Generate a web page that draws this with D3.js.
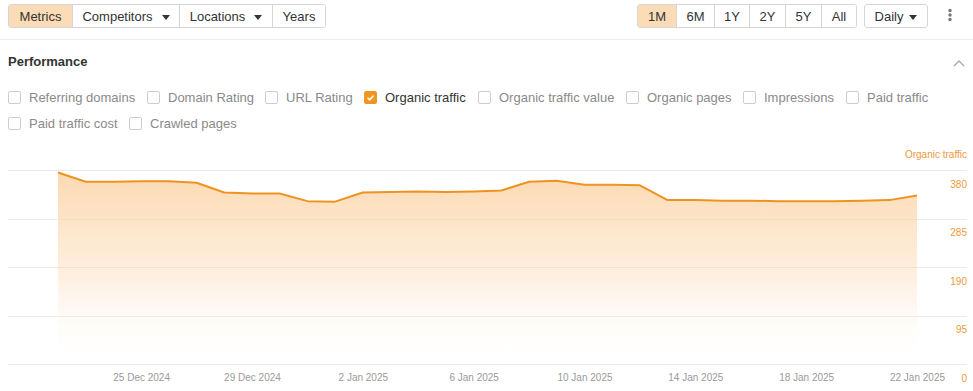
<!DOCTYPE html>
<html>
<head>
<meta charset="utf-8">
<script src="https://cdn.jsdelivr.net/npm/d3@7"></script>
<style>
body { margin:0; width:973px; height:391px; overflow:hidden; background:#fff; position:relative;
       font-family: Arial, "Liberation Sans", sans-serif; font-size:13px; color:#333; }
.grp { position:absolute; top:4px; height:24px; display:flex; border:1px solid #d6d6d6; border-radius:3px;
       box-sizing:border-box; overflow:hidden; }
.grp div { display:flex; align-items:center; justify-content:center; box-sizing:border-box; height:100%;
       border-left:1px solid #d6d6d6; background:#fff; }
.grp div:first-child { border-left:none; }
.grp div.on { background:#fcdcb6; }
.caret { display:inline-block; margin-left:9px; margin-top:2px; border-left:4px solid transparent;
       border-right:4px solid transparent; border-top:5px solid #333; }
.cb { position:absolute; display:flex; align-items:center; height:16px; color:#8a8a8a; white-space:nowrap; }
.cb .box { width:13px; height:13px; border:1px solid #cdcdcd; border-radius:2px; box-sizing:border-box;
       margin-right:8px; position:relative; }
.cb.on { color:#333; }
.cb.on .box { background:#f0961e; border-color:#f0961e; }
#divider { position:absolute; left:0; top:39px; width:973px; height:1px; background:#ececec; }
#perf { position:absolute; left:8px; top:54px; font-weight:bold; color:#333; }
svg { position:absolute; left:0; top:0; }
</style>
</head>
<body>
<div id="divider"></div>
<div id="perf">Performance</div>
<script>
// toolbar + metric pickers
var leftButtons = ["Metrics", "Competitors", "Locations", "Years"];
var leftWidths = [63, 107, 93, 53];
var leftDrop = [false, true, true, false];
var rangeButtons = ["1M", "6M", "1Y", "2Y", "5Y", "All"];
var rangeWidths = [38, 38, 35, 36, 36, 35];

var metricsRow1 = ["Referring domains", "Domain Rating", "URL Rating", "Organic traffic",
                   "Organic traffic value", "Organic pages", "Impressions", "Paid traffic"];
var metricsRow2 = ["Paid traffic cost", "Crawled pages"];
var metricsX1 = [8, 147, 265, 364, 478, 626, 743, 846];
var metricsX2 = [8, 129];
var checked = "Organic traffic";

// chart data: daily organic traffic, 22 Dec 2024 - 22 Jan 2025
var startDay = "2024-12-22";
var traffic = [375, 357, 357, 358, 358, 355, 336, 334, 334, 319, 318, 336, 337, 338, 337, 338,
               340, 357, 359, 351, 351, 350, 321, 321, 320, 320, 319, 319, 319, 320, 321, 330];
var yTicks = [0, 95, 190, 285, 380];
var xTicks = ["2024-12-25", "2024-12-29", "2025-01-02", "2025-01-06", "2025-01-10",
              "2025-01-14", "2025-01-18", "2025-01-22"];
var seriesName = "Organic traffic";

var body = d3.select("body");

var g1 = body.append("div").attr("class", "grp").style("left", "8px");
g1.selectAll("div").data(leftButtons).enter().append("div")
    .classed("on", function(d, i) { return i == 0 })
    .style("width", function(d, i) { return leftWidths[i] + "px" })
    .each(function(d, i) {
        var el = d3.select(this);
        el.append("span").text(d);
        if (leftDrop[i]) el.append("span").attr("class", "caret");
    });

var g2 = body.append("div").attr("class", "grp").style("left", "637px");
g2.selectAll("div").data(rangeButtons).enter().append("div")
    .classed("on", function(d, i) { return i == 0 })
    .style("width", function(d, i) { return rangeWidths[i] + "px" })
    .text(function(d) { return d });

var g3 = body.append("div").attr("class", "grp").style("left", "864px");
g3.append("div").style("width", "62px")
    .html("<span>Daily</span><span class='caret' style='margin-left:6px'></span>");

function addMetrics(names, xs, top) {
    names.forEach(function(name, i) {
        var item = body.append("div").attr("class", "cb")
            .classed("on", name == checked)
            .style("left", xs[i] + "px").style("top", top + "px");
        var box = item.append("div").attr("class", "box");
        if (name == checked) {
            box.append("svg").attr("width", 13).attr("height", 13).style("position", "absolute")
                .style("left", "-1px").style("top", "-1px")
                .append("path").attr("d", "M3.5,6.8L5.6,8.9L9.6,4.6")
                .attr("fill", "none").attr("stroke", "#fff").attr("stroke-width", 1.6);
        }
        item.append("span").text(name);
    });
}
addMetrics(metricsRow1, metricsX1, 89);
addMetrics(metricsRow2, metricsX2, 115);

// chart
var parse = d3.timeParse("%Y-%m-%d");
var day0 = parse(startDay);
var points = traffic.map(function(v, i) { return { date: d3.timeDay.offset(day0, i), value: v } });

var width = 973, height = 391;
var svg = body.append("svg").attr("width", width).attr("height", height);

var x = d3.scaleTime()
    .domain(d3.extent(points, function(d) { return d.date }))
    .range([58, 917]);
var y = d3.scaleLinear().domain([0, 380]).range([364, 170]);

var grad = svg.append("defs").append("linearGradient")
    .attr("id", "fade").attr("gradientUnits", "userSpaceOnUse")
    .attr("x1", 0).attr("x2", 0).attr("y1", y(380)).attr("y2", y(0));
grad.append("stop").attr("offset", "0%").attr("stop-color", "#fbcf9c").attr("stop-opacity", 0.8);
grad.append("stop").attr("offset", "55%").attr("stop-color", "#fcdcb8").attr("stop-opacity", 0.45);
grad.append("stop").attr("offset", "100%").attr("stop-color", "#fff").attr("stop-opacity", 0);

// gridlines
svg.append("g").selectAll("line").data(yTicks).enter().append("line")
    .attr("x1", 8).attr("x2", 967)
    .attr("y1", function(d) { return Math.round(y(d)) + 0.5 })
    .attr("y2", function(d) { return Math.round(y(d)) + 0.5 })
    .attr("stroke", "#ebebeb");

var area = d3.area()
    .x(function(d) { return x(d.date) })
    .y0(y(0))
    .y1(function(d) { return y(d.value) });
svg.append("path").datum(points).attr("d", area).attr("fill", "url(#fade)");

var line = d3.line()
    .x(function(d) { return x(d.date) })
    .y(function(d) { return y(d.value) });
svg.append("path").datum(points).attr("d", line)
    .attr("fill", "none").attr("stroke", "#ef9320").attr("stroke-width", 2)
    .attr("stroke-linejoin", "round");

// y labels sit under their gridline on the right
svg.append("g").selectAll("text").data(yTicks).enter().append("text")
    .attr("x", 967).attr("y", function(d) { return y(d) + 15 })
    .attr("text-anchor", "end").attr("dominant-baseline", "middle")
    .attr("font-size", 10).attr("fill", "#eb9a3c")
    .text(function(d) { return d });

svg.append("text").attr("x", 967).attr("y", 155)
    .attr("text-anchor", "end").attr("dominant-baseline", "middle")
    .attr("font-size", 10).attr("fill", "#eb9a3c")
    .text(seriesName);

var xAxis = d3.axisBottom(x)
    .tickValues(xTicks.map(parse))
    .tickFormat(d3.timeFormat("%-d %b %Y"))
    .tickSize(0).tickPadding(10);
var ax = svg.append("g").attr("transform", "translate(0," + 364 + ")").call(xAxis);
ax.select(".domain").remove();
ax.selectAll("text").attr("font-size", 10).attr("fill", "#9a9a9a")
    .attr("font-family", "Arial, 'Liberation Sans', sans-serif");

// kebab + collapse chevron
svg.append("g").selectAll("circle").data([10.5, 15, 19.5]).enter().append("circle")
    .attr("cx", 950).attr("cy", function(d) { return d }).attr("r", 1.7).attr("fill", "#777");
svg.append("path").attr("d", "M954,66L959,61L964,66")
    .attr("fill", "none").attr("stroke", "#aaa").attr("stroke-width", 1.4);
</script>
</body>
</html>
